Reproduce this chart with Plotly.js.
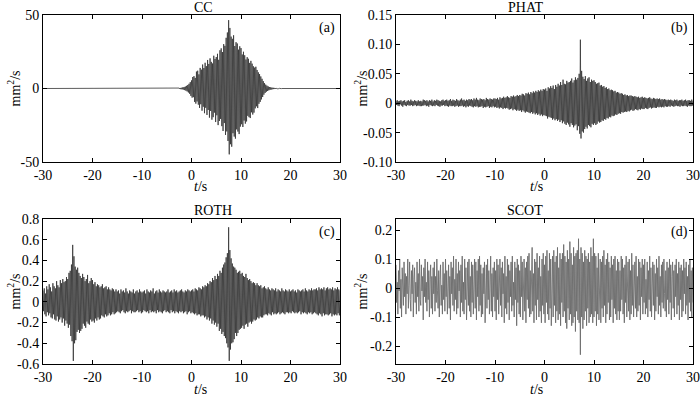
<!DOCTYPE html>
<html>
<head>
<meta charset="utf-8">
<script src="https://cdn.plot.ly/plotly-3.0.1.min.js"></script>
<style>html,body{margin:0;padding:0;background:#fff;}#chart{width:700px;height:397px;}</style>
</head>
<body>
<div id="chart"></div>
<script>
// Sampling grid of the correlation lag axis (s)
const T_START = -30;
const T_STEP = 0.125;

// (a) CC, mm^2/s  (one row = 5 s)
const ccValues = [
0,0,0,0,0,0,0,0,0,0,0,0,0,0,0,0,0,0,0,0,0,0,0,0,0,0,0,0,0,0,0,0,0,0,0,0,0,0,0,0,
0,0,0,0,0,0,0,0,0,0,0,0,0,0,0,0,0,0,0,0,0,0,0,0,0,0,0,0,0,0,0,0,0,0,0,0,0,0,0,0,
0,0,0,0,0,0,0,0,0,0,0,0,0,0,0,0,0,0,0,0,0,0,0,0,0,0,0,0,0,0,0,0,0,0,0,0,0,0,0,0,
0,0,0,0,0,0,0,0,0,0,0,0,0,0,0,0,0,0,0,0,0,0,0,0,0,0,0,0,0,0,0,0,0,0,0,0,0,0,0,0,
0,0,0,0,0,0,0,0,0,0,0,0,0,0,0,0,0,0,0,0,0,0,0,0,0,0,0,0,0,0,0,0,0,0,0,0,0,0,0,0,
0,0,0,0,0,0,0,0,0,0,0,0,0,0,0,0,0.1,-0.1,0.2,-0.2,
0.3,-0.3,0.4,-0.5,0.5,-0.6,0.8,-0.7,1.0,-1.1,1.3,-1.5,1.8,-2.0,2.4,-2.7,3.2,-3.6,4.3,-5.0,
5.5,-6.2,7.8,-5.9,8.4,-9.1,7.2,-10.3,11.5,-8.8,12.1,-11.0,9.6,-13.2,14.0,-10.7,12.8,-15.1,16.3,-12.4,
13.9,-16.8,17.5,-13.1,15.2,-18.0,19.4,-14.6,16.7,-19.8,20.5,-15.3,18.1,-21.2,17.0,-19.5,22.3,-16.4,20.1,-22.8,
21.4,-18.2,23.6,-24.9,19.5,-22.1,26.0,-20.7,27.3,-25.6,24.8,-28.9,30.2,-23.5,29.0,-31.6,34.5,-29.2,38.1,-35.7,
46.5,-44.8,41.2,-37.9,35.3,-39.6,33.8,-30.4,36.2,-32.7,28.9,-34.1,31.5,-27.8,30.6,-29.3,26.4,-31.0,28.7,-25.9,
27.5,-24.3,23.1,-26.2,25.0,-21.8,22.6,-23.9,19.7,-22.4,21.3,-18.6,20.2,-19.5,17.4,-20.1,18.8,-16.2,16.9,-17.7,
15.1,-16.4,14.2,-13.5,14.8,-12.1,12.6,-13.3,11.0,-10.4,9.8,-9.1,8.2,-7.4,6.6,-5.8,5.0,-4.2,3.6,-3.0,
2.6,-2.2,1.9,-1.7,1.4,-1.2,1.0,-0.9,0.8,-0.7,0.6,-0.5,0.5,-0.4,0.4,-0.3,0.3,-0.3,0.2,-0.2,
0.2,-0.1,0.1,-0.1,0.1,-0.1,0,0,0,0,0,0,0,0,0,0,0,0,0,0,
0,0,0,0,0,0,0,0,0,0,0,0,0,0,0,0,0,0,0,0,0,0,0,0,0,0,0,0,0,0,0,0,0,0,0,0,0,0,0,0,
0,0,0,0,0,0,0,0,0,0,0,0,0,0,0,0,0,0,0,0,0,0,0,0,0,0,0,0,0,0,0,0,0,0,0,0,0,0,0,0,
0];

// (b) PHAT, mm^2/s
const phatValues = [
0.004,-0.003,0.005,-0.004,0.003,-0.005,0.004,-0.002,0.005,-0.004,0.003,-0.006,0.004,-0.003,0.005,-0.004,0.002,-0.005,0.004,-0.003,
0.005,-0.004,0.003,-0.004,0.006,-0.003,0.004,-0.005,0.003,-0.004,0.005,-0.003,0.004,-0.005,0.003,-0.004,0.005,-0.004,0.003,-0.005,
0.004,-0.005,0.003,-0.004,0.006,-0.004,0.005,-0.003,0.004,-0.005,0.005,-0.004,0.003,-0.006,0.005,-0.003,0.004,-0.004,0.006,-0.005,
0.003,-0.004,0.005,-0.005,0.004,-0.003,0.006,-0.004,0.005,-0.005,0.004,-0.006,0.003,-0.004,0.005,-0.004,0.006,-0.003,0.004,-0.005,
0.005,-0.004,0.006,-0.005,0.004,-0.006,0.005,-0.004,0.007,-0.005,0.004,-0.005,0.006,-0.004,0.005,-0.006,0.004,-0.005,0.007,-0.004,
0.005,-0.006,0.004,-0.005,0.006,-0.005,0.008,-0.004,0.005,-0.006,0.006,-0.005,0.004,-0.007,0.006,-0.005,0.005,-0.006,0.007,-0.004,
0.006,-0.005,0.007,-0.006,0.005,-0.007,0.008,-0.005,0.006,-0.006,0.009,-0.005,0.006,-0.007,0.005,-0.006,0.008,-0.006,0.007,-0.005,
0.006,-0.008,0.007,-0.006,0.005,-0.007,0.009,-0.006,0.007,-0.005,0.006,-0.008,0.008,-0.006,0.007,-0.007,0.006,-0.005,0.008,-0.007,
0.008,-0.006,0.007,-0.008,0.009,-0.007,0.006,-0.009,0.010,-0.007,0.008,-0.008,0.009,-0.010,0.011,-0.008,0.009,-0.009,0.010,-0.008,
0.012,-0.009,0.010,-0.011,0.009,-0.010,0.012,-0.009,0.011,-0.012,0.013,-0.010,0.011,-0.011,0.012,-0.013,0.014,-0.011,0.012,-0.013,
0.014,-0.012,0.013,-0.015,0.016,-0.012,0.015,-0.014,0.013,-0.016,0.017,-0.014,0.016,-0.015,0.018,-0.016,0.015,-0.017,0.019,-0.015,
0.017,-0.018,0.020,-0.016,0.018,-0.019,0.021,-0.017,0.019,-0.020,0.022,-0.018,0.020,-0.021,0.023,-0.019,0.021,-0.022,0.024,-0.020,
0.023,-0.021,0.025,-0.022,0.021,-0.026,0.027,-0.023,0.025,-0.024,0.029,-0.025,0.026,-0.028,0.030,-0.026,0.024,-0.029,0.031,-0.027,
0.028,-0.030,0.033,-0.028,0.030,-0.032,0.036,-0.029,0.031,-0.034,0.040,-0.031,0.033,-0.035,0.032,-0.037,0.038,-0.033,0.035,-0.036,
0.036,-0.040,0.038,-0.034,0.042,-0.037,0.035,-0.041,0.039,-0.038,0.044,-0.036,0.040,-0.046,0.043,-0.039,0.050,-0.052,0.108,-0.060,
0.055,-0.048,0.045,-0.050,0.041,-0.044,0.046,-0.040,0.038,-0.043,0.042,-0.037,0.044,-0.039,0.036,-0.041,0.040,-0.035,0.038,-0.037,
0.039,-0.034,0.036,-0.037,0.033,-0.035,0.034,-0.031,0.035,-0.033,0.030,-0.032,0.031,-0.029,0.028,-0.030,0.029,-0.027,0.026,-0.028,
0.027,-0.025,0.024,-0.026,0.025,-0.023,0.022,-0.024,0.023,-0.021,0.022,-0.022,0.020,-0.021,0.021,-0.019,0.018,-0.020,0.019,-0.018,
0.018,-0.017,0.016,-0.018,0.017,-0.015,0.016,-0.016,0.014,-0.015,0.015,-0.014,0.013,-0.015,0.014,-0.013,0.012,-0.014,0.013,-0.012,
0.013,-0.011,0.012,-0.013,0.011,-0.012,0.012,-0.010,0.011,-0.011,0.010,-0.012,0.011,-0.010,0.009,-0.011,0.010,-0.009,0.011,-0.010,
0.009,-0.010,0.010,-0.008,0.009,-0.009,0.008,-0.010,0.009,-0.008,0.010,-0.007,0.008,-0.009,0.007,-0.008,0.009,-0.007,0.008,-0.008,
0.007,-0.008,0.008,-0.006,0.007,-0.007,0.008,-0.006,0.006,-0.007,0.007,-0.006,0.006,-0.007,0.007,-0.005,0.006,-0.006,0.005,-0.006,
0.006,-0.005,0.005,-0.006,0.006,-0.004,0.005,-0.005,0.004,-0.006,0.006,-0.005,0.005,-0.004,0.006,-0.005,0.004,-0.005,0.005,-0.006,
0.005,-0.004,0.006,-0.005,0.004,-0.005,0.005,-0.004,0.006,-0.005,0.004,-0.006,0.005,-0.004,0.005,-0.005,0.004,-0.005,0.006,-0.004,
0.004];

// (c) ROTH, mm^2/s
const rothValues = [
0.11,-0.09,0.13,-0.12,0.08,-0.14,0.15,-0.10,0.12,-0.13,0.17,-0.11,0.14,-0.15,0.10,-0.16,0.18,-0.12,0.15,-0.17,
0.13,-0.18,0.20,-0.14,0.16,-0.19,0.14,-0.17,0.21,-0.15,0.18,-0.20,0.22,-0.16,0.19,-0.23,0.20,-0.18,0.24,-0.21,
0.22,-0.25,0.28,-0.22,0.30,-0.33,0.36,-0.38,0.55,-0.57,0.44,-0.40,0.34,-0.37,0.31,-0.29,0.33,-0.27,0.28,-0.30,
0.25,-0.28,0.23,-0.26,0.27,-0.21,0.24,-0.23,0.20,-0.25,0.22,-0.19,0.26,-0.21,0.18,-0.22,0.20,-0.17,0.23,-0.19,
0.21,-0.18,0.17,-0.20,0.19,-0.16,0.15,-0.18,0.17,-0.15,0.16,-0.17,0.14,-0.16,0.15,-0.13,0.17,-0.14,0.13,-0.15,
0.14,-0.12,0.15,-0.14,0.12,-0.13,0.14,-0.11,0.12,-0.13,0.11,-0.12,0.13,-0.10,0.12,-0.12,0.10,-0.11,0.12,-0.10,
0.10,-0.09,0.11,-0.10,0.08,-0.11,0.12,-0.09,0.10,-0.08,0.11,-0.10,0.09,-0.11,0.13,-0.09,0.10,-0.10,0.08,-0.09,
0.11,-0.08,0.10,-0.11,0.09,-0.09,0.12,-0.10,0.08,-0.10,0.10,-0.09,0.11,-0.08,0.09,-0.10,0.12,-0.09,0.10,-0.11,
0.09,-0.10,0.10,-0.08,0.11,-0.09,0.08,-0.10,0.12,-0.09,0.10,-0.11,0.09,-0.08,0.11,-0.10,0.10,-0.09,0.13,-0.10,
0.08,-0.09,0.10,-0.11,0.11,-0.08,0.09,-0.10,0.12,-0.09,0.10,-0.10,0.09,-0.11,0.11,-0.09,0.10,-0.08,0.09,-0.10,
0.10,-0.09,0.12,-0.10,0.09,-0.11,0.10,-0.08,0.11,-0.10,0.09,-0.09,0.12,-0.11,0.10,-0.09,0.11,-0.10,0.09,-0.11,
0.10,-0.09,0.11,-0.10,0.12,-0.09,0.10,-0.11,0.09,-0.10,0.11,-0.09,0.10,-0.12,0.12,-0.10,0.11,-0.09,0.10,-0.11,
0.11,-0.10,0.12,-0.11,0.10,-0.12,0.13,-0.11,0.12,-0.13,0.11,-0.12,0.14,-0.12,0.13,-0.14,0.12,-0.13,0.15,-0.13,
0.14,-0.15,0.16,-0.14,0.15,-0.17,0.18,-0.15,0.17,-0.18,0.20,-0.16,0.19,-0.21,0.23,-0.18,0.21,-0.22,0.25,-0.20,
0.22,-0.24,0.27,-0.21,0.25,-0.28,0.30,-0.26,0.28,-0.31,0.33,-0.29,0.36,-0.33,0.38,-0.35,0.43,-0.40,0.47,-0.44,
0.72,-0.57,0.50,-0.46,0.42,-0.40,0.37,-0.39,0.34,-0.36,0.33,-0.30,0.31,-0.33,0.28,-0.30,0.29,-0.27,0.30,-0.26,
0.27,-0.25,0.28,-0.23,0.25,-0.26,0.24,-0.22,0.27,-0.21,0.23,-0.24,0.21,-0.20,0.22,-0.19,0.20,-0.21,0.18,-0.19,
0.19,-0.17,0.18,-0.18,0.16,-0.17,0.18,-0.15,0.16,-0.16,0.15,-0.14,0.16,-0.15,0.13,-0.15,0.14,-0.13,0.15,-0.12,
0.13,-0.12,0.12,-0.13,0.14,-0.11,0.12,-0.12,0.11,-0.13,0.13,-0.10,0.12,-0.12,0.11,-0.11,0.13,-0.12,0.10,-0.11,
0.12,-0.10,0.11,-0.12,0.10,-0.11,0.13,-0.10,0.11,-0.11,0.10,-0.12,0.12,-0.10,0.11,-0.10,0.10,-0.11,0.12,-0.10,
0.10,-0.11,0.11,-0.09,0.12,-0.10,0.10,-0.11,0.11,-0.10,0.09,-0.11,0.12,-0.10,0.11,-0.09,0.10,-0.12,0.11,-0.10,
0.12,-0.11,0.10,-0.10,0.13,-0.11,0.11,-0.12,0.10,-0.10,0.12,-0.11,0.11,-0.10,0.13,-0.12,0.11,-0.11,0.12,-0.10,
0.12,-0.11,0.13,-0.12,0.11,-0.13,0.14,-0.11,0.12,-0.12,0.13,-0.14,0.12,-0.11,0.14,-0.13,0.11,-0.12,0.13,-0.12,
0.14,-0.13,0.12,-0.12,0.13,-0.11,0.12,-0.14,0.14,-0.12,0.11,-0.13,0.13,-0.12,0.12,-0.13,0.14,-0.11,0.12,-0.13,
0.11];

// (d) SCOT, mm^2/s
const scotValues = [
0.08,-0.05,0.02,-0.09,0.06,-0.01,0.10,-0.07,0.03,-0.10,0.07,0.00,-0.06,0.09,-0.03,0.05,-0.09,0.04,-0.02,0.10,
-0.07,0.01,0.09,-0.04,-0.08,0.06,-0.02,0.08,-0.10,0.03,0.07,-0.05,0.02,-0.09,0.09,-0.03,0.05,-0.08,0.10,-0.04,
-0.06,0.08,-0.01,0.04,-0.11,0.07,-0.03,0.10,-0.05,0.02,-0.08,0.09,-0.04,0.06,-0.10,0.03,0.08,-0.07,0.04,-0.09,
0.07,-0.02,0.09,-0.08,0.04,-0.05,0.10,-0.01,-0.07,0.06,-0.10,0.03,0.08,-0.06,0.01,-0.09,0.09,-0.04,0.05,-0.08,
0.10,-0.03,0.06,-0.09,0.02,0.08,-0.07,0.04,-0.11,0.09,-0.02,0.07,-0.06,0.11,-0.08,0.03,-0.04,0.10,-0.09,0.05,
-0.07,0.09,-0.01,0.06,-0.10,0.08,-0.05,0.11,-0.08,0.02,-0.09,0.10,-0.04,0.07,-0.11,0.05,0.09,-0.06,0.10,-0.08,
0.04,-0.10,0.09,-0.05,0.08,-0.09,0.02,0.10,-0.07,0.09,-0.11,0.06,-0.03,0.10,-0.08,0.11,-0.06,0.08,-0.10,0.05,
-0.09,0.07,-0.02,0.09,-0.12,0.04,0.08,-0.07,0.10,-0.04,0.06,-0.09,0.01,0.11,-0.08,0.05,-0.10,0.07,-0.03,0.09,
-0.08,0.06,-0.11,0.10,-0.04,0.08,-0.09,0.03,0.10,-0.06,0.07,-0.10,0.09,-0.02,0.05,-0.12,0.11,-0.07,0.04,-0.09,
0.10,-0.05,0.08,-0.11,0.06,-0.03,0.09,-0.08,0.11,-0.06,0.02,-0.10,0.09,-0.04,0.07,-0.13,0.10,-0.05,0.08,-0.09,
0.06,-0.10,0.11,-0.03,0.09,-0.11,0.05,0.10,-0.08,0.07,-0.12,0.09,-0.04,0.11,-0.07,0.12,-0.10,0.06,-0.09,0.10,
0.14,-0.08,0.05,-0.12,0.10,-0.06,0.09,-0.11,0.12,-0.04,0.07,-0.10,0.11,-0.08,0.04,-0.12,0.10,-0.06,0.12,-0.09,
0.08,-0.12,0.11,-0.05,0.13,-0.09,0.06,-0.11,0.12,-0.07,0.10,-0.13,0.04,0.11,-0.10,0.13,-0.06,0.09,-0.12,0.11,
-0.08,0.14,-0.11,0.07,-0.09,0.12,-0.13,0.10,-0.05,0.12,-0.10,0.15,-0.08,0.11,-0.12,0.09,-0.14,0.13,-0.07,0.10,
-0.11,0.16,-0.09,0.12,-0.13,0.08,-0.12,0.14,-0.10,0.11,-0.15,0.12,-0.08,0.13,-0.11,0.17,-0.12,0.10,-0.23,0.14,
-0.10,0.12,-0.14,0.09,-0.11,0.13,-0.08,0.11,-0.13,0.10,-0.07,0.12,-0.12,0.09,-0.10,0.14,-0.09,0.11,-0.12,0.17,
-0.10,0.12,-0.08,0.11,-0.13,0.07,-0.09,0.12,-0.11,0.06,0.10,-0.12,0.09,-0.07,0.11,-0.10,0.13,-0.06,0.08,-0.12,
0.10,-0.09,0.12,-0.05,0.09,-0.11,0.07,-0.10,0.11,-0.04,0.08,-0.12,0.10,-0.07,0.11,-0.09,0.06,-0.11,0.10,-0.08,
0.09,-0.11,0.06,-0.08,0.11,-0.04,0.10,-0.09,0.07,-0.12,0.08,-0.05,0.11,-0.10,0.03,0.09,-0.08,0.10,-0.11,0.06,
-0.09,0.12,-0.06,0.08,-0.10,0.05,0.09,-0.07,0.11,-0.10,0.04,-0.08,0.10,-0.06,0.09,-0.11,0.07,-0.03,0.10,-0.09,
0.08,-0.05,0.10,-0.09,0.03,-0.07,0.09,-0.10,0.06,-0.04,0.11,-0.08,0.07,-0.10,0.02,0.09,-0.06,0.08,-0.11,0.05,
-0.08,0.10,-0.03,0.07,-0.09,0.11,-0.06,0.04,-0.10,0.08,-0.05,0.09,-0.07,0.10,-0.02,-0.08,0.06,-0.10,0.09,-0.04,
0.07,-0.09,0.10,-0.05,0.08,-0.11,0.04,0.09,-0.07,0.06,-0.10,0.08,-0.03,0.10,-0.09,0.05,-0.06,0.09,-0.11,0.07,
-0.04,0.08,-0.10,0.06,-0.08,0.10,-0.02,0.07,-0.09,0.09,-0.06,0.04,-0.11,0.08,-0.05,0.10,-0.08,0.06,-0.10,0.07,
-0.05];

// Tick labels
const xTickVals = [-30,-20,-10,0,10,20,30];
const xTickText = ["-30","-20","-10","0","10","20","30"];
const ccTickVals = [-50,0,50];
const ccTickText = ["-50","0","50"];
const phatTickVals = [-0.10,-0.05,0,0.05,0.10,0.15];
const phatTickText = ["-0.10","-0.05","0","0.05","0.10","0.15"];
const rothTickVals = [-0.6,-0.4,-0.2,0,0.2,0.4,0.6,0.8];
const rothTickText = ["-0.6","-0.4","-0.2","0","0.2","0.4","0.6","0.8"];
const scotTickVals = [-0.2,-0.1,0,0.1,0.2];
const scotTickText = ["-0.2","-0.1","0","0.1","0.2"];

const panelTitles = ["CC","PHAT","ROTH","SCOT"];
const panelTags = ["(a)","(b)","(c)","(d)"];
const xTitle = "<i>t</i>/s";
const yTitle = "mm<sup>2</sup>/s";

const lagAxis = vals => vals.map((_, i) => T_START + i * T_STEP);

const FONT = "'Liberation Serif', 'Times New Roman', serif";
const FS = 14;
const series = [ccValues, phatValues, rothValues, scotValues];
const colors = ["#333333","#333333","#333333","#6c6c6c"];
const widths = [0.8, 0.8, 0.8, 0.9];
const data = series.map((v, k) => ({
  x: lagAxis(v), y: v, type: "scatter", mode: "lines",
  xaxis: k === 0 ? "x" : "x" + (k + 1),
  yaxis: k === 0 ? "y" : "y" + (k + 1),
  line: {color: colors[k], width: widths[k]},
  hoverinfo: "skip", showlegend: false
}));

const W = 700, H = 397;
const colX = [[43/W, 340/W], [396/W, 693/W]];
const rowY = [[1 - 162/H, 1 - 15/H], [1 - 364/H, 1 - 219/H]];
const titleY = [1 - 8/H, 1 - 210/H];
const xTitleY = [1 - 186/H, 1 - 389/H];
const yTitleX = [14/W, 361/W];
const yRanges = [[-50,50],[-0.10,0.15],[-0.6,0.8],[-0.262,0.238]];
const yTicks = [[ccTickVals, ccTickText],[phatTickVals, phatTickText],[rothTickVals, rothTickText],[scotTickVals, scotTickText]];

const layout = {
  width: W, height: H,
  margin: {l: 0, r: 0, t: 0, b: 0},
  paper_bgcolor: "#fff", plot_bgcolor: "#fff",
  font: {family: FONT, size: FS, color: "#000"},
  annotations: []
};
const tf = {family: FONT, size: FS, color: "#000"};

for (let k = 0; k < 4; k++) {
  const c = k % 2, r = Math.floor(k / 2);
  const xs = k === 0 ? "" : String(k + 1);
  layout["xaxis" + xs] = {
    domain: colX[c], anchor: "y" + xs, range: [-30, 30],
    tickmode: "array", tickvals: xTickVals, ticktext: xTickText,
    ticks: "inside", ticklen: 4, tickcolor: "#000", mirror: "ticks",
    showline: true, linecolor: "#000", linewidth: 1, showgrid: false, zeroline: false,
    tickfont: tf
  };
  layout["yaxis" + xs] = {
    domain: rowY[r], anchor: "x" + xs, range: yRanges[k],
    tickmode: "array", tickvals: yTicks[k][0], ticktext: yTicks[k][1],
    ticks: "inside", ticklen: 4, tickcolor: "#000", mirror: "ticks",
    showline: true, linecolor: "#000", linewidth: 1, showgrid: false, zeroline: false,
    tickfont: tf
  };
  const xc = (colX[c][0] + colX[c][1]) / 2;
  layout.annotations.push({text: panelTitles[k], xref: "paper", yref: "paper",
    x: xc, y: titleY[r], yanchor: "middle", showarrow: false, font: tf});
  layout.annotations.push({text: xTitle, xref: "paper", yref: "paper",
    x: xc, y: xTitleY[r], yanchor: "middle", showarrow: false, font: tf});
  layout.annotations.push({text: yTitle, xref: "paper", yref: "paper",
    x: yTitleX[c], y: (rowY[r][0] + rowY[r][1]) / 2, xanchor: "center", yanchor: "middle",
    textangle: -90, showarrow: false, font: tf});
  layout.annotations.push({text: panelTags[k], xref: "x" + xs + " domain", yref: "y" + xs + " domain",
    x: 0.99, y: 0.98, xanchor: "right", yanchor: "top", showarrow: false, font: tf});
}

Plotly.newPlot("chart", data, layout, {staticPlot: true, displayModeBar: false});
</script>
</body>
</html>
